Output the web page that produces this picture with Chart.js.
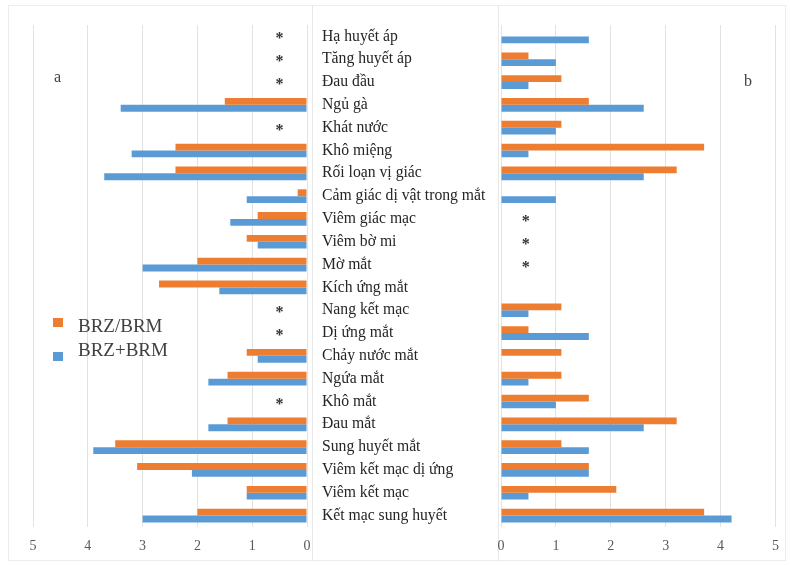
<!DOCTYPE html>
<html>
<head>
<meta charset="utf-8">
<script src="https://cdn.jsdelivr.net/npm/chart.js@4.4.1/dist/chart.umd.min.js"></script>
<style>
  html, body { margin: 0; padding: 0; background: #fff; }
  #wrap { position: relative; width: 790px; height: 565px; overflow: hidden; font-family: 'Liberation Serif', serif; }
  #frame { position: absolute; left: 8px; top: 5px; width: 778px; height: 556px; border: 1px solid #ececec; box-sizing: border-box; }
  .sep { position: absolute; top: 5px; width: 1px; height: 556px; background: #e8e8e8; }
  #leftBox { position: absolute; left: 0; top: 0; width: 318px; height: 565px; }
  #rightBox { position: absolute; left: 318px; top: 0; width: 472px; height: 565px; }
  .panel { position: absolute; font-size: 16px; color: #404040; }
  .sw { position: absolute; left: 53px; width: 10px; height: 9px; }
  .lg { position: absolute; left: 78px; font-size: 19px; line-height: 19px; color: #404040; white-space: nowrap; }
</style>
</head>
<body>
<div id="wrap">
  <div id="frame"></div>
  <div class="sep" style="left:312px"></div>
  <div class="sep" style="left:498px"></div>
  <div id="leftBox"><canvas id="leftChart" width="318" height="565"></canvas></div>
  <div id="rightBox"><canvas id="rightChart" width="472" height="565"></canvas></div>
  <div class="panel" style="left:54px; top:68px;">a</div>
  <div class="panel" style="left:744px; top:72px;">b</div>
  <div id="legend"></div>
</div>
<script>
// categories, top to bottom
const categories = [
  'Hạ huyết áp', 'Tăng huyết áp', 'Đau đầu', 'Ngủ gà', 'Khát nước', 'Khô miệng',
  'Rối loạn vị giác', 'Cảm giác dị vật trong mắt', 'Viêm giác mạc', 'Viêm bờ mi',
  'Mờ mắt', 'Kích ứng mắt', 'Nang kết mạc', 'Dị ứng mắt', 'Chảy nước mắt', 'Ngứa mắt',
  'Khô mắt', 'Đau mắt', 'Sung huyết mắt', 'Viêm kết mạc dị ứng', 'Viêm kết mạc',
  'Kết mạc sung huyết'
];

const seriesNames = ['BRZ/BRM', 'BRZ+BRM'];

// panel a (null = not reported, shown as *)
const aBrzBrm = [null, null, null, 1.5, null, 2.4, 2.4, 0.17, 0.9, 1.1, 2.0, 2.7, null, null, 1.1, 1.45, null, 1.45, 3.5, 3.1, 1.1, 2.0];
const aBrzPlusBrm = [null, null, null, 3.4, null, 3.2, 3.7, 1.1, 1.4, 0.9, 3.0, 1.6, null, null, 0.9, 1.8, null, 1.8, 3.9, 2.1, 1.1, 3.0];

// panel b
const bBrzBrm = [0, 0.5, 1.1, 1.6, 1.1, 3.7, 3.2, 0, null, null, null, 0, 1.1, 0.5, 1.1, 1.1, 1.6, 3.2, 1.1, 1.6, 2.1, 3.7];
const bBrzPlusBrm = [1.6, 1.0, 0.5, 2.6, 1.0, 0.5, 2.6, 1.0, null, null, null, 0, 0.5, 1.6, 0, 0.5, 1.0, 2.6, 1.6, 1.6, 0.5, 4.2];

const xTicks = [0, 1, 2, 3, 4, 5];

const orange = '#ED7D31';
const blue = '#5B9BD5';
const gridColor = '#e2e2e2';

Chart.defaults.font.family = "'Liberation Serif', serif";
Chart.defaults.color = '#595959';

// draws a * where a category has no value in either series
const starPlugin = {
  id: 'stars',
  afterDatasetsDraw(chart, args, opts) {
    const ctx = chart.ctx;
    const xs = chart.scales.x;
    const ys = chart.scales.y;
    const d0 = chart.data.datasets[0].data;
    const d1 = chart.data.datasets[1].data;
    ctx.save();
    ctx.fillStyle = '#333';
    ctx.font = "bold 16px 'Liberation Serif', serif";
    ctx.textAlign = 'center';
    ctx.textBaseline = 'alphabetic';
    d0.forEach((v, i) => {
      if (v === null && d1[i] === null) {
        ctx.fillText('*', xs.getPixelForValue(opts.at), ys.getPixelForValue(i) + 7);
      }
    });
    ctx.restore();
  }
};

function makeDatasets(first, second) {
  return [
    { label: seriesNames[0], data: first, backgroundColor: orange, barPercentage: 1, categoryPercentage: 0.6 },
    { label: seriesNames[1], data: second, backgroundColor: blue, barPercentage: 1, categoryPercentage: 0.6 }
  ];
}

function xScale(reverse) {
  return {
    min: 0,
    max: 5,
    reverse: reverse,
    afterBuildTicks: (scale) => { scale.ticks = xTicks.map(v => ({ value: v })); },
    ticks: { padding: 11, font: { size: 14 }, color: '#595959' },
    grid: { color: gridColor, drawTicks: false },
    border: { display: false },
    afterFit: (scale) => { scale.height = 28; }
  };
}

document.addEventListener('DOMContentLoaded', () => {
  new Chart(document.getElementById('leftChart').getContext('2d'), {
    type: 'bar',
    data: { labels: categories, datasets: makeDatasets(aBrzBrm, aBrzPlusBrm) },
    options: {
      indexAxis: 'y',
      responsive: false,
      animation: false,
      layout: { padding: { left: 33, right: 11, top: 25, bottom: 10 } },
      scales: {
        x: xScale(true),
        y: { display: false }
      },
      plugins: { legend: { display: false }, tooltip: { enabled: false }, stars: { at: 0.5 } }
    },
    plugins: [starPlugin]
  });

  new Chart(document.getElementById('rightChart').getContext('2d'), {
    type: 'bar',
    data: { labels: categories, datasets: makeDatasets(bBrzBrm, bBrzPlusBrm) },
    options: {
      indexAxis: 'y',
      responsive: false,
      animation: false,
      layout: { padding: { left: 4, right: 13, top: 25, bottom: 10 } },
      scales: {
        x: xScale(false),
        y: {
          ticks: { crossAlign: 'far', font: { size: 15.7 }, color: '#262626', padding: 6 },
          grid: { display: false },
          border: { display: false },
          afterFit: (scale) => { scale.width = 179; }
        }
      },
      plugins: { legend: { display: false }, tooltip: { enabled: false }, stars: { at: 0.45 } }
    },
    plugins: [starPlugin]
  });

  // legend: swatches and texts sit a little apart, as in the source figure
  const legend = document.getElementById('legend');
  const swatchTops = [318, 352];
  const textTops = [316, 340];
  [orange, blue].forEach((c, i) => {
    const sw = document.createElement('div');
    sw.className = 'sw';
    sw.style.top = swatchTops[i] + 'px';
    sw.style.background = c;
    legend.appendChild(sw);
    const tx = document.createElement('div');
    tx.className = 'lg';
    tx.style.top = textTops[i] + 'px';
    tx.textContent = seriesNames[i];
    legend.appendChild(tx);
  });
});
</script>
</body>
</html>
